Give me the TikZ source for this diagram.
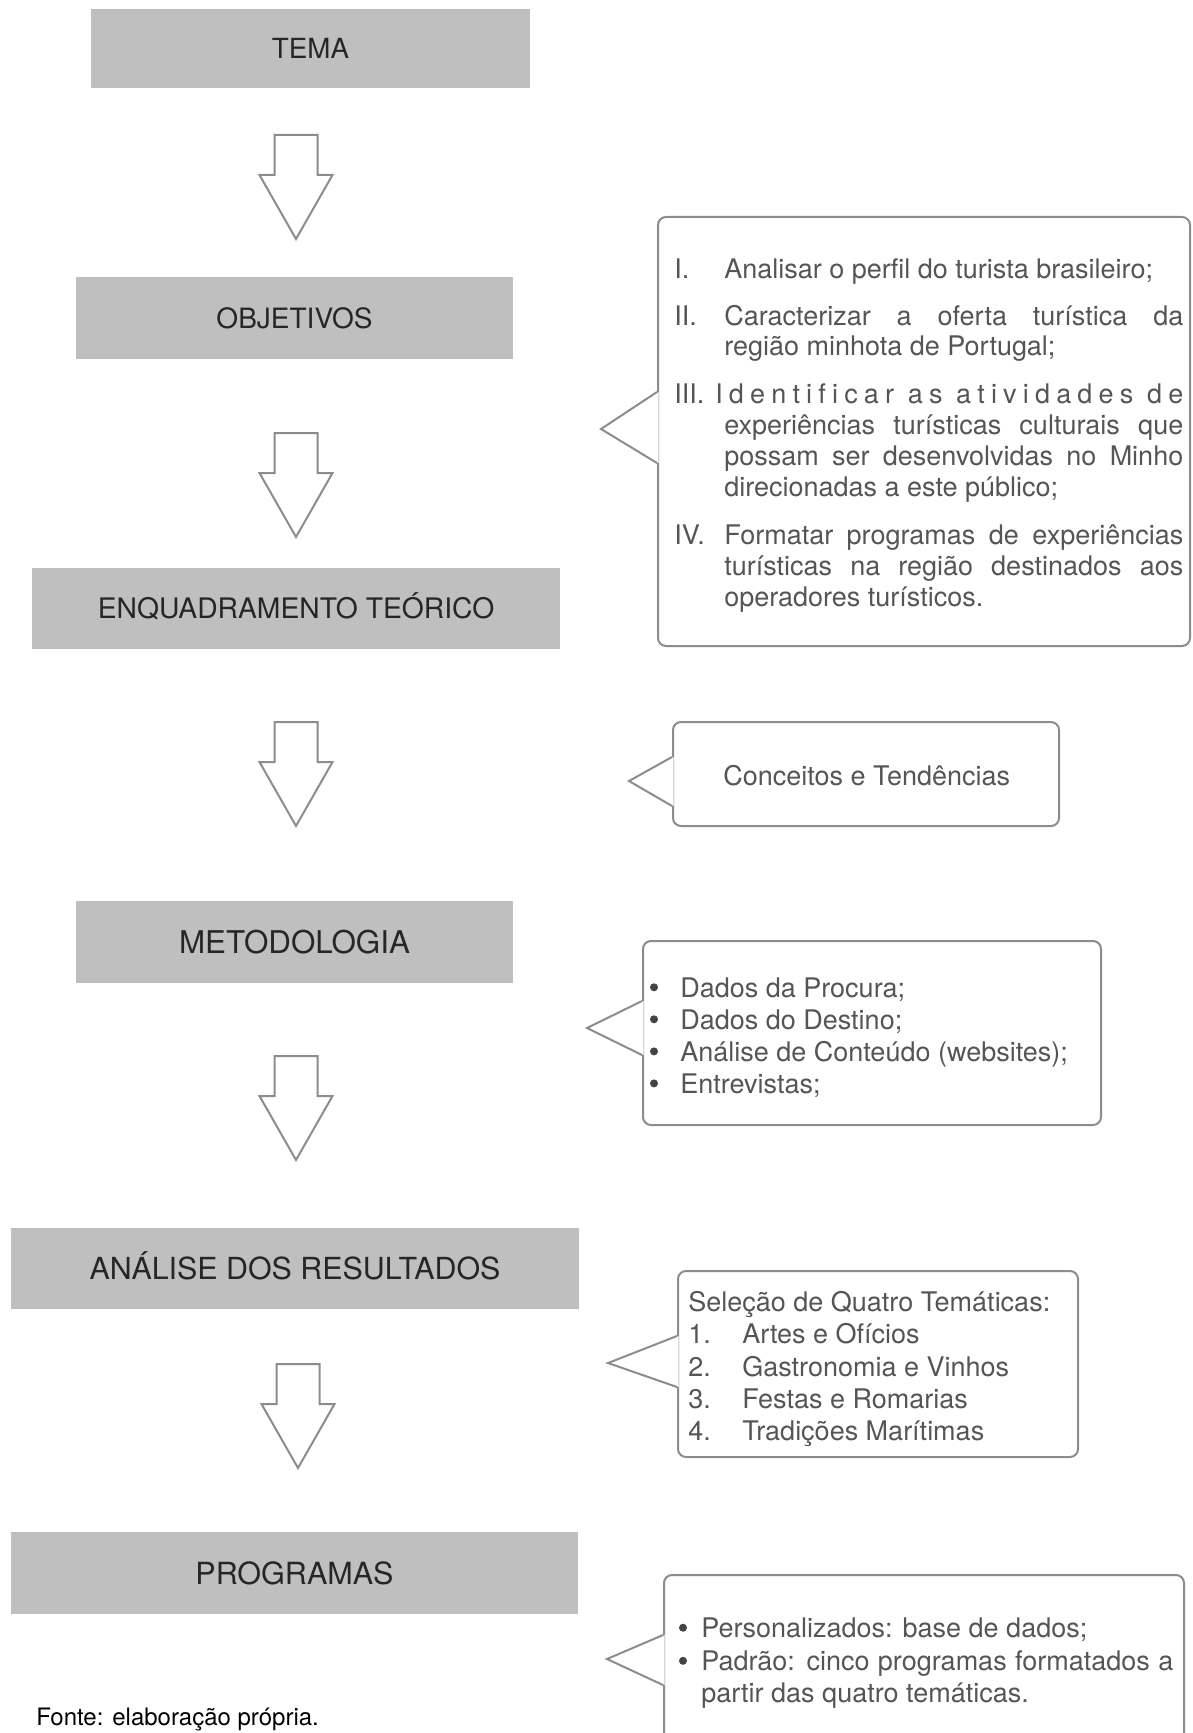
\documentclass[tikz,border=0pt]{standalone}
\usepackage{fontspec}
\setmainfont{TeX Gyre Heros}
\usetikzlibrary{calc}
\definecolor{boxgray}{HTML}{BFBFBF}
\definecolor{linegray}{HTML}{8A8D90}
\definecolor{txtgray}{HTML}{555555}
\definecolor{bulgray}{HTML}{444444}
\newcommand\lsp{\hspace{0pt plus 1fil}}
\begin{document}
\begin{tikzpicture}[x=0.75pt,y=-0.75pt,
  stage/.style={fill=boxgray, inner sep=0pt, text=black!85, text depth=0pt},
  arrowline/.style={draw=linegray, line width=1.5pt, fill=white, line join=miter},
  callout/.style={draw=linegray, line width=1.5pt, rounded corners=6pt, fill=white, inner sep=0pt},
  pointer/.style={draw=linegray, line width=1.5pt, line join=miter},
  ctext/.style={anchor=base west, inner sep=0pt, text=txtgray, font=\fontsize{20.25}{24}\selectfont},
  bul/.style={circle, fill=bulgray, inner sep=0pt, minimum size=6pt},
  downarr/.pic={\draw[arrowline] (-21.5,0) -- (21.5,0) -- (21.5,40) -- (36.5,40) -- (0,104) -- (-36.5,40) -- (-21.5,40) -- cycle;}
]
\useasboundingbox (0,0) rectangle (1192,1733);
\clip (0,0) rectangle (1192,1733);

% stage boxes
\node[stage, minimum width=329.25pt, minimum height=59.25pt, text height=14.98pt, font=\fontsize{20.8}{24}\selectfont] (tema) at (310.5,48.5) {TEMA};
\node[stage, minimum width=327.75pt, minimum height=61.5pt, text height=15.12pt, font=\fontsize{21}{24}\selectfont] (obj) at (294.5,318) {OBJETIVOS};
\node[stage, minimum width=396pt, minimum height=60.75pt, text height=15.26pt, font=\fontsize{21.2}{24}\selectfont] (enq) at (296,608.5) {ENQUADRAMENTO TEÓRICO};
\node[stage, minimum width=327.75pt, minimum height=61.5pt, text height=16.92pt, font=\fontsize{23.5}{26}\selectfont] (met) at (294.5,942) {METODOLOGIA};
\node[stage, minimum width=426pt, minimum height=60.75pt, text height=16.42pt, font=\fontsize{22.8}{26}\selectfont] (ana) at (295,1268.5) {ANÁLISE DOS RESULTADOS};
\node[stage, minimum width=425.25pt, minimum height=61.5pt, text height=16.49pt, font=\fontsize{22.9}{26}\selectfont] (pro) at (294.5,1573) {PROGRAMAS};

% block arrows
\pic at (296,135) {downarr};
\pic at (296,433) {downarr};
\pic at (296,722) {downarr};
\pic at (296,1056) {downarr};
\pic at (298,1364) {downarr};

% callout 1
\node[callout, minimum width=399pt, minimum height=321.75pt] (c1) at (924,431.5) {};
\coordinate (c1a) at (c1.west |- 0,392);
\coordinate (c1b) at (c1.west |- 0,463);
\coordinate (c1tip) at (601,429);
\fill[white] ($(c1a)+(1.6,0)$) -- (c1tip) -- ($(c1b)+(1.6,0)$) -- cycle;
\draw[pointer] (c1a) -- (c1tip) -- (c1b);
\node[ctext] (c1n1) at (674,278.3) {I.};
\node[ctext] (c1l1) at (724,278.3) {Analisar o perfil do turista brasileiro;};
\node[ctext] (c1n2) at (674,325.8) {II.};
\node[ctext] (c1l2) at (724,325.8) {\makebox[344.25pt][s]{Caracterizar a oferta turística da}};
\node[ctext] (c1l3) at (724,355.7) {região minhota de Portugal;};
\node[ctext] (c1n3) at (674,403.2) {III.};
\node[ctext] (c1l4) at (715,403.2) {\hbox to 351pt{I\lsp d\lsp e\lsp n\lsp t\lsp i\lsp f\lsp i\lsp c\lsp a\lsp r\ \lsp a\lsp s\ \lsp a\lsp t\lsp i\lsp v\lsp i\lsp d\lsp a\lsp d\lsp e\lsp s\ \lsp d\lsp e}};
\node[ctext] (c1l5) at (724,434.1) {\makebox[344.25pt][s]{experiências turísticas culturais que}};
\node[ctext] (c1l6) at (724,465) {\makebox[344.25pt][s]{possam ser desenvolvidas no Minho}};
\node[ctext] (c1l7) at (724,496) {direcionadas a este público;};
\node[ctext] (c1n4) at (674,544.6) {IV.};
\node[ctext] (c1l8) at (724,544.6) {\makebox[344.25pt][s]{Formatar programas de experiências}};
\node[ctext] (c1l9) at (724,575.5) {\makebox[344.25pt][s]{turísticas na região destinados aos}};
\node[ctext] (c1l10) at (724,606.4) {operadores turísticos.};

% callout 2
\node[callout, minimum width=289.5pt, minimum height=78pt] (c2) at (866,774) {};
\coordinate (c2a) at (c2.west |- 0,757);
\coordinate (c2b) at (c2.west |- 0,806);
\coordinate (c2tip) at (629,781);
\fill[white] ($(c2a)+(1.6,0)$) -- (c2tip) -- ($(c2b)+(1.6,0)$) -- cycle;
\draw[pointer] (c2a) -- (c2tip) -- (c2b);
\node[ctext] (c2l1) at (723,785) {Conceitos e Tendências};

% callout 3
\node[callout, minimum width=343.5pt, minimum height=138pt] (c3) at (872,1033) {};
\coordinate (c3a) at (c3.west |- 0,1001);
\coordinate (c3b) at (c3.west |- 0,1055);
\coordinate (c3tip) at (587,1028);
\fill[white] ($(c3a)+(1.6,0)$) -- (c3tip) -- ($(c3b)+(1.6,0)$) -- cycle;
\draw[pointer] (c3a) -- (c3tip) -- (c3b);
\node[bul] (c3b1) at (654,987.3) {};
\node[ctext] (c3l1) at (680,997.3) {Dados da Procura;};
\node[bul] (c3b2) at (654,1019.3) {};
\node[ctext] (c3l2) at (680,1029.3) {Dados do Destino;};
\node[bul] (c3b3) at (654,1051.4) {};
\node[ctext] (c3l3) at (680,1061.4) {Análise de Conteúdo (websites);};
\node[bul] (c3b4) at (654,1083.4) {};
\node[ctext] (c3l4) at (680,1093.4) {Entrevistas;};

% callout 4
\node[callout, minimum width=300pt, minimum height=139.5pt] (c4) at (878,1364) {};
\coordinate (c4a) at (c4.west |- 0,1336);
\coordinate (c4b) at (c4.west |- 0,1387);
\coordinate (c4tip) at (608,1363);
\fill[white] ($(c4a)+(1.6,0)$) -- (c4tip) -- ($(c4b)+(1.6,0)$) -- cycle;
\draw[pointer] (c4a) -- (c4tip) -- (c4b);
\node[ctext] (c4l0) at (688,1311) {Seleção de Quatro Temáticas:};
\node[ctext] (c4n1) at (688,1343) {1.};
\node[ctext] (c4l1) at (742,1343) {Artes e Ofícios};
\node[ctext] (c4n2) at (688,1376.1) {2.};
\node[ctext] (c4l2) at (742,1376.1) {Gastronomia e Vinhos};
\node[ctext] (c4n3) at (688,1408.2) {3.};
\node[ctext] (c4l3) at (742,1408.2) {Festas e Romarias};
\node[ctext] (c4n4) at (688,1440.2) {4.};
\node[ctext] (c4l4) at (742,1440.2) {Tradições Marítimas};

% callout 5
\node[callout, minimum width=390pt, minimum height=153.75pt] (c5) at (924,1677.5) {};
\coordinate (c5a) at (c5.west |- 0,1635);
\coordinate (c5b) at (c5.west |- 0,1685);
\coordinate (c5tip) at (607,1659);
\fill[white] ($(c5a)+(1.6,0)$) -- (c5tip) -- ($(c5b)+(1.6,0)$) -- cycle;
\draw[pointer] (c5a) -- (c5tip) -- (c5b);
\node[bul] (c5b1) at (683,1627.7) {};
\node[ctext] (c5l1) at (701,1637.7) {Personalizados: base de dados;};
\node[bul] (c5b2) at (683,1660.8) {};
\node[ctext] (c5l2) at (701,1670.8) {\makebox[354pt][s]{Padrão: cinco programas formatados a}};
\node[ctext] (c5l3) at (701,1702.9) {partir das quatro temáticas.};

% source
\node[anchor=base west, inner sep=0pt, text=black, font=\fontsize{18}{22}\selectfont] (fonte) at (36,1725) {Fonte: elaboração própria.};
\end{tikzpicture}
\end{document}
